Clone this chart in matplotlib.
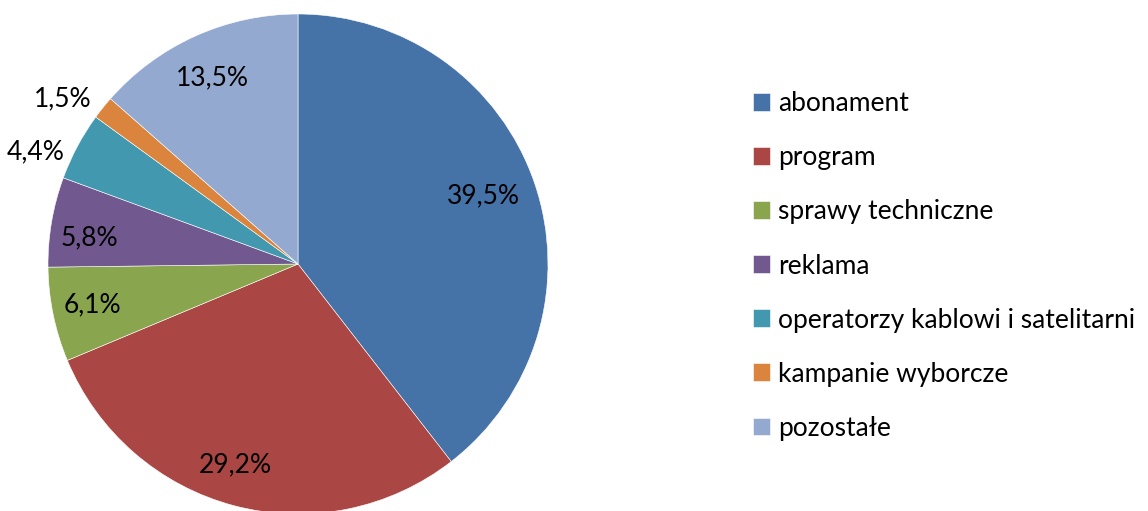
import matplotlib
matplotlib.use("Agg")
import matplotlib.pyplot as plt
import numpy as np

# data
categories = ["abonament", "program", "sprawy techniczne", "reklama",
              "operatorzy kablowi i satelitarni", "kampanie wyborcze", "pozostałe"]
shares = [39.5, 29.2, 6.1, 5.8, 4.4, 1.5, 13.5]
pct_labels = ["39,5%", "29,2%", "6,1%", "5,8%", "4,4%", "1,5%", "13,5%"]

colors = ["#4572A7", "#AA4643", "#89A54E", "#71588F", "#4198AF", "#DB843D", "#93A9CF"]
# label placement: distance from centre (radius units) and angle nudge (deg)
label_r = [0.79, 0.84, 0.84, 0.84, 1.14, 1.15, 0.82]
label_dang = [1.3, -2.6, -0.4, 2.6, 5.0, 3.6, 0.4]

plt.rcParams['font.family'] = ['Lato', 'DejaVu Sans']

W, H = 1148, 511
fig = plt.figure(figsize=(W / 100, H / 100), dpi=100)

# square axes around the pie centre (pixel coords)
cx, cy, r = 298, 264, 250
ax = fig.add_axes([(cx - r) / W, (H - cy - r) / H, 2 * r / W, 2 * r / H])

wedges, _ = ax.pie(shares, colors=colors, startangle=90, counterclock=False,
                   radius=1, wedgeprops=dict(edgecolor='white', linewidth=0.4))
ax.set_xlim(-1, 1)
ax.set_ylim(-1, 1)
ax.set_aspect('equal')
ax.axis('off')

for w, lab, d, da in zip(wedges, pct_labels, label_r, label_dang):
    ang = np.deg2rad((w.theta1 + w.theta2) / 2 + da)
    ax.text(d * np.cos(ang), d * np.sin(ang), lab, ha='center', va='center',
            fontsize=19, color='black', clip_on=False)

fig.legend(wedges, categories, loc='center left',
           bbox_to_anchor=(753 / W, (H - 266) / H), frameon=False,
           fontsize=19, handlelength=0.65, handleheight=0.65,
           handletextpad=0.3, labelspacing=1.1, borderpad=0, borderaxespad=0)

fig.savefig("out.png", dpi=100)
